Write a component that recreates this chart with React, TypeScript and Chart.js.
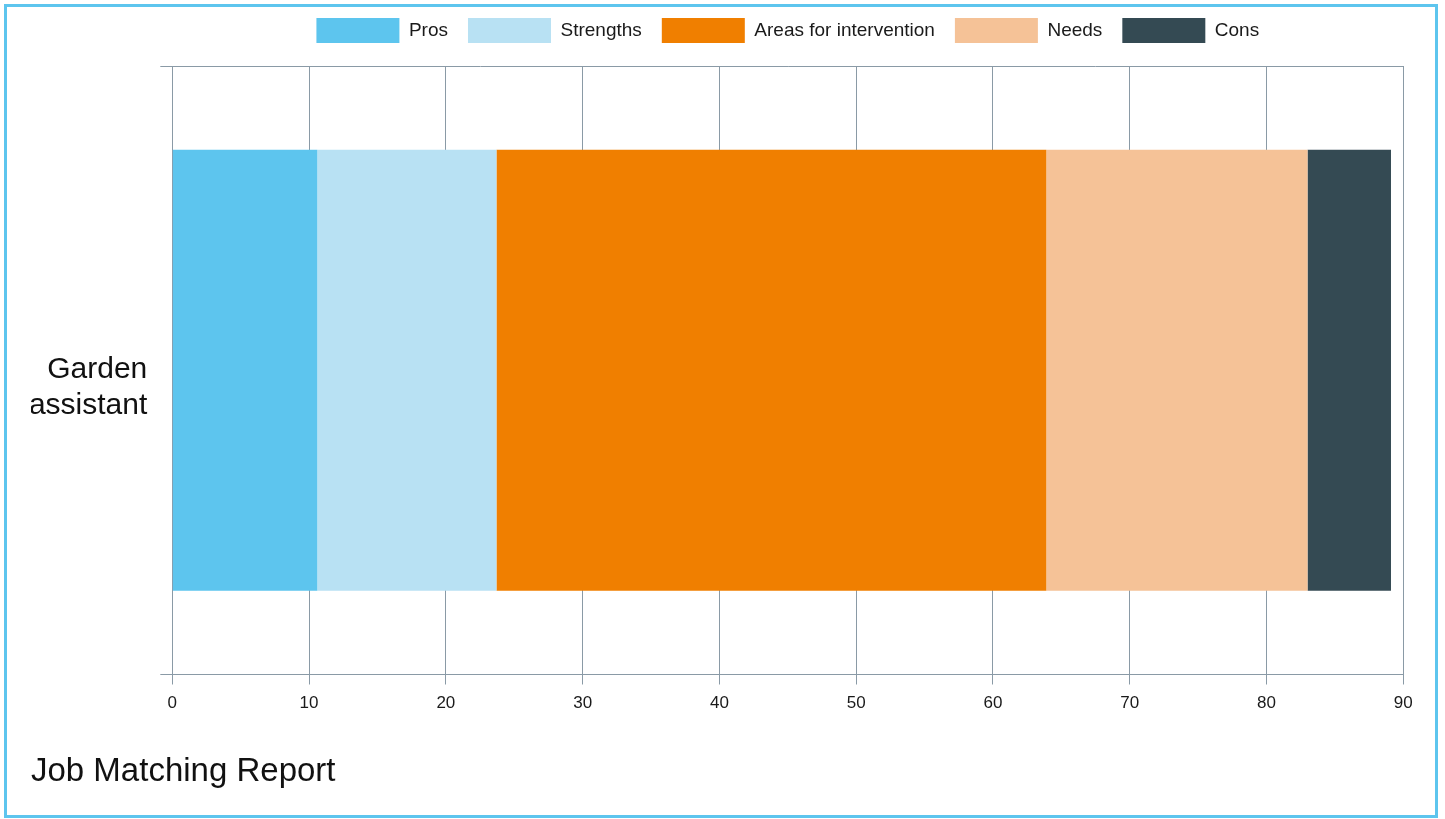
import React, { useEffect, useRef } from 'react';
import { Chart, registerables } from 'chart.js';

Chart.register(...registerables);

const categories = [['Garden', 'assistant']];
const seriesNames = ['Pros', 'Strengths', 'Areas for intervention', 'Needs', 'Cons'];
const prosValues = [10.6];
const strengthsValues = [13.1];
const interventionValues = [40.2];
const needsValues = [19.1];
const consValues = [6.1];
const seriesColors = ['#5DC5EE', '#B8E1F3', '#F07F00', '#F5C297', '#344A53'];
const xMin = 0;
const xMax = 90;
const xStep = 10;
const chartTitle = 'Job Matching Report';

const FONT = "'Liberation Sans', Arial, Helvetica, sans-serif";
const GRID = '#8A9AA6';

const legendGap = {
  id: 'legendGap',
  beforeLayout(chart: any) {
    const lg = chart.legend;
    if (lg && !lg._gapPatched) {
      const orig = lg.fit;
      lg.fit = function () {
        orig.call(this);
        this.height += 13;
      };
      lg._gapPatched = true;
    }
  },
};

export default function App() {
  const ref = useRef<HTMLCanvasElement | null>(null);

  useEffect(() => {
    if (!ref.current) return;
    const seriesValues = [prosValues, strengthsValues, interventionValues, needsValues, consValues];
    const chart = new Chart(ref.current, {
      type: 'bar',
      data: {
        labels: categories as any,
        datasets: seriesNames.map((name, i) => ({
          label: name,
          data: seriesValues[i],
          backgroundColor: seriesColors[i],
          borderWidth: 0,
          categoryPercentage: 1,
          barPercentage: 0.725,
        })),
      },
      plugins: [legendGap],
      options: {
        indexAxis: 'y',
        animation: false,
        responsive: true,
        maintainAspectRatio: false,
        layout: { padding: { left: 31, right: 41.7, top: 0, bottom: 27 } },
        scales: {
          x: {
            stacked: true,
            min: xMin,
            max: xMax,
            ticks: { stepSize: xStep, padding: 8.5, color: '#1a1a1a', font: { family: FONT, size: 17 } },
            grid: { color: GRID, lineWidth: 1, tickLength: 10 },
            border: { color: GRID, width: 1 },
          },
          y: {
            stacked: true,
            afterFit: (scale: any) => {
              scale.width = 141.3;
            },
            ticks: {
              padding: 13,
              labelOffset: 17.5,
              color: '#111',
              font: { family: FONT, size: 30, lineHeight: 1.18 },
            },
            grid: { color: GRID, lineWidth: 1, tickLength: 12 },
            border: { color: GRID, width: 1 },
          },
        },
        plugins: {
          legend: {
            position: 'top',
            fullSize: false,
            labels: {
              boxWidth: 83,
              boxHeight: 25,
              padding: 20,
              color: '#1a1a1a',
              font: { family: FONT, size: 19 },
            },
          },
          title: {
            display: true,
            text: chartTitle,
            position: 'bottom',
            align: 'start',
            color: '#111',
            font: { family: FONT, size: 33, weight: 'normal' },
            padding: { top: 30.5, bottom: 0 },
          },
          tooltip: { enabled: false },
        },
      } as any,
    });
    return () => chart.destroy();
  }, []);

  return (
    <div style={{ position: 'fixed', left: 0, top: 0, width: 1445, height: 819, background: '#fff' }}>
      <div style={{ position: 'absolute', left: 0, top: -2, width: 1445, height: 821 }}>
        <canvas ref={ref} />
      </div>
      <div
        style={{
          position: 'absolute',
          left: 4,
          top: 4,
          width: 1434,
          height: 814,
          boxSizing: 'border-box',
          border: '3px solid #5DC5EE',
          pointerEvents: 'none',
        }}
      />
    </div>
  );
}
